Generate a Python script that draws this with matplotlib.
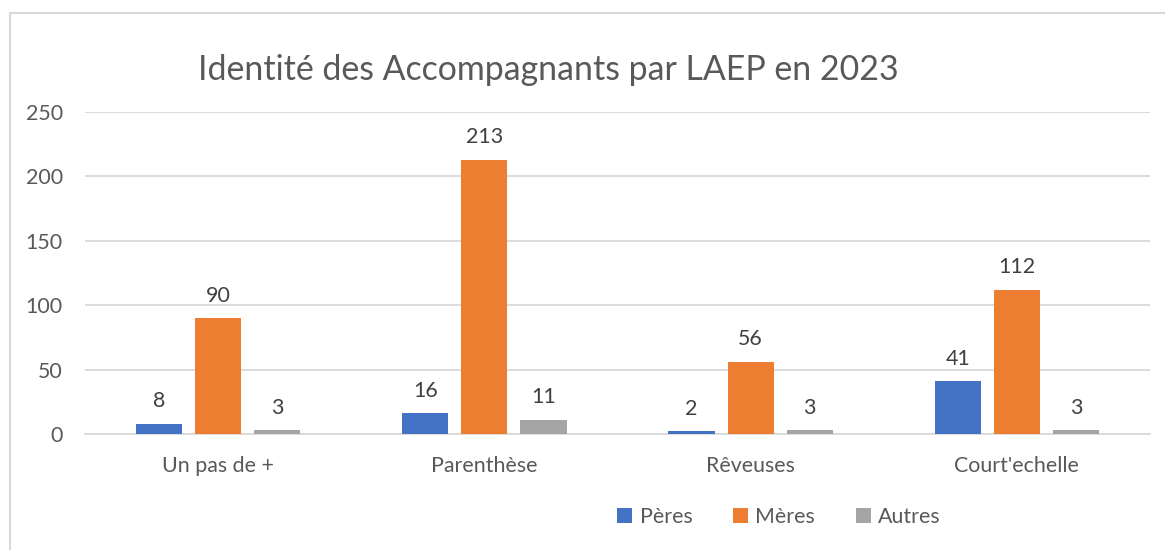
import matplotlib.pyplot as plt
import numpy as np
from matplotlib.lines import Line2D

# Data
categories = ["Un pas de +", "Parenthèse", "Rêveuses", "Court'echelle"]
peres = [8, 16, 2, 41]
meres = [90, 213, 56, 112]
autres = [3, 11, 3, 3]
series_names = ["Pères", "Mères", "Autres"]
colors = ["#4472C4", "#ED7D31", "#A5A5A5"]

plt.rcParams['font.family'] = ['Lato', 'DejaVu Sans']
TXT = "#595959"
GRID = "#D9D9D9"
FS = 15.4

fig = plt.figure(figsize=(11.65, 5.5), dpi=100)
ax = fig.add_axes([85 / 1165, 116 / 550, 1065 / 1165, 322 / 550])

x = np.arange(len(categories))
width = 0.173
offset = 0.222
for i, (vals, name, col) in enumerate(zip([peres, meres, autres], series_names, colors)):
    bars = ax.bar(x + (i - 1) * offset, vals, width, color=col, label=name, zorder=3)
    for b, v in zip(bars, vals):
        ax.annotate(str(v), (b.get_x() + b.get_width() / 2, v),
                    xytext=(0, 9), textcoords="offset points",
                    ha="center", va="bottom", fontsize=FS, color="#404040")

ax.set_xlim(-0.5, 3.5)
ax.set_ylim(0, 250)
ax.set_yticks(range(0, 251, 50))
ax.set_xticks(x)
ax.set_xticklabels(categories)
ax.yaxis.grid(True, color=GRID, linewidth=1.3, zorder=0)
ax.tick_params(axis='both', length=0, labelsize=FS, labelcolor=TXT)
ax.tick_params(axis='y', pad=16)
ax.tick_params(axis='x', pad=16)
for s in ["top", "right", "left"]:
    ax.spines[s].set_visible(False)
ax.spines["bottom"].set_color(GRID)
ax.spines["bottom"].set_linewidth(1.3)

fig.text(548 / 1165, 1 - 70 / 550, "Identité des Accompagnants par LAEP en 2023",
         ha="center", va="center", fontsize=24.4, color=TXT)

leg = fig.legend(loc="center", bbox_to_anchor=(779 / 1165, 1 - 517 / 550), ncol=3,
                 frameon=False, fontsize=FS, handlelength=0.7, handleheight=0.7,
                 columnspacing=1.9, handletextpad=0.35)
for t in leg.get_texts():
    t.set_color(TXT)

# chart frame (cropped on right and bottom)
fig.add_artist(Line2D([9.5 / 1165, 9.5 / 1165], [0, 1 - 12.5 / 550], color=GRID, lw=1.5))
fig.add_artist(Line2D([9.5 / 1165, 1], [1 - 12.5 / 550, 1 - 12.5 / 550], color=GRID, lw=1.5))

fig.savefig("out.png", dpi=100)
